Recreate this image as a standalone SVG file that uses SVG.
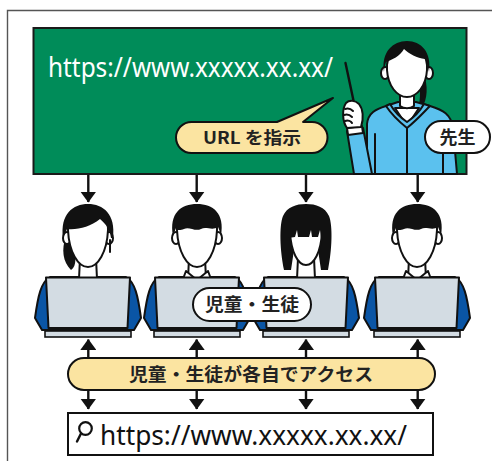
<svg xmlns="http://www.w3.org/2000/svg" width="492" height="461" viewBox="0 0 492 461">
  <defs>
    <style>
      .ln { stroke: #111; stroke-width: 2; stroke-linejoin: round; stroke-linecap: round; }
      .blk { fill: #111; }
      .wht { fill: #fff; }
      .jp { font-family: "Noto Sans CJK JP", "Noto Sans", sans-serif; font-weight: 700; fill: #222; }
      .url { font-family: "Noto Sans", "Open Sans", sans-serif; }
      .conn { stroke: #111; stroke-width: 2.4; fill: none; }
      .screen { fill: #d3dce3; }
      .suit { fill: #0a55a5; }
    </style>
    <marker id="arr" viewBox="0 0 11 16" refX="10.5" refY="8" markerWidth="11" markerHeight="16" markerUnits="userSpaceOnUse" orient="auto-start-reverse">
      <path d="M0,0 L11,8 L0,16 Z" fill="#111"/>
    </marker>

    <!-- shared student parts, drawn around x = 0 -->
    <g id="torso">
      <path class="suit ln" d="M-38,277 C-47,282 -50,296 -53,318 L-46,330 L46,330 L53,318 C50,296 47,282 38,277 Z"/>
    </g>
    <g id="laptop">
      <path class="screen ln" d="M-42,277.5 L42,277.5 L39.5,328 L-39.5,328 Z"/>
      <rect class="screen" x="-43" y="331" width="86" height="6" stroke="#111" stroke-width="1.6"/>
    </g>
    <g id="neck">
      <path class="wht ln" d="M-8,258 L-9,279 L9,279 L8,258 Z"/>
    </g>
    <g id="ears">
      <ellipse class="wht ln" cx="-21" cy="238" rx="4" ry="6"/>
      <ellipse class="wht ln" cx="21" cy="238" rx="4" ry="6"/>
    </g>
    <g id="face">
      <path class="wht ln" d="M-20,230 C-21,216 -12,208 0,208 C12,208 21,216 20,230 C19,252 10,267 0,267 C-10,267 -19,252 -20,230 Z"/>
    </g>
    <g id="boyCollar">
      <path class="wht ln" d="M-11,271 L0,280 L11,271 L14,279 L-14,279 Z"/>
    </g>
    <g id="boyHair">
      <path class="blk" d="M-24,236 C-28,213 -16,204 0,204 C16,204 28,213 24,236 C23,232 22,229 21,227 C15,231 9,226 4,229 C-2,232 -8,226 -13,229 C-18,231 -20,230 -21,228 C-22,231 -23,233 -24,236 Z"/>
    </g>
  </defs>

  <!-- outer frame -->
  <path d="M7.5,461 L7.5,10.5 L492,10.5" fill="none" stroke="#555" stroke-width="1.4"/>

  <!-- blackboard with the URL -->
  <g id="board">
    <rect x="33.5" y="28" width="433" height="146" fill="#008c59" stroke="#1a1a1a" stroke-width="2"/>
    <text class="url" x="48" y="77" font-size="27" fill="#fff" textLength="285" lengthAdjust="spacingAndGlyphs">https://www.xxxxx.xx.xx/</text>
  </g>

  <!-- teacher -->
  <g id="teacher">
    <!-- pointer -->
    <line x1="345.5" y1="63" x2="354" y2="103" stroke="#111" stroke-width="2.4" stroke-linecap="round"/>
    <!-- ponytail -->
    <path class="blk" d="M421,70 C428,80 428,95 424,104 L419,104 C421,94 420,82 416,74 Z"/>
    <!-- body -->
    <path d="M367,174 L367,124 C368,113 376,109 386,106 L398,102 L416,102 L430,106 C443,110 451,114 453,128 L457,174 Z" fill="#5bc1ee" class="ln"/>
    <!-- shirt and collar -->
    <path class="wht ln" d="M395,108 L419,108 L407,126 Z"/>
    <path class="ln" fill="#5bc1ee" d="M386,106 C390,112 397,120 407,128 C417,120 424,112 430,106 L424,104 C420,111 413,118 407,122 C401,118 394,111 390,104 Z"/>
    <path class="ln" d="M407,128 L407,174 M375,134 L375,174 M443,147 L443,174" fill="none"/>
    <!-- neck -->
    <path class="wht ln" d="M400,92 L400,106 C404,109 410,109 414,106 L414,92 Z"/>
    <!-- ears and face -->
    <ellipse class="wht ln" cx="385" cy="73" rx="4" ry="6"/>
    <ellipse class="wht ln" cx="429" cy="73" rx="4" ry="6"/>
    <path class="wht ln" d="M387,70 C386,54 395,46 407,46 C419,46 428,54 427,70 C426,86 417,97 407,97 C397,97 388,86 387,70 Z"/>
    <!-- hair -->
    <path class="blk" d="M384,72 C381,52 393,41 407,41 C421,41 432,52 429,72 C428,67 427,62 425,59 C417,58 409,54 404,49 C400,56 392,60 386,62 C385,65 384,68 384,72 Z"/>
    <!-- raised forearm and fist -->
    <path d="M347,131 L363,128 L372,174 L354,174 Z" fill="#5bc1ee" class="ln"/>
    <path class="wht ln" d="M347,128 L362,126 L363,133 L348,135 Z"/>
    <path class="wht ln" d="M346,103 C342,109 342,121 347,128 L361,127 C364,118 363,109 359,104 C355,100 349,100 346,103 Z"/>
    <path class="ln" fill="none" stroke-width="1.6" d="M345,109 C348,108 351,109 353,111 M344,115 C347,114 350,115 352,117 M345,121 C348,120 351,121 352,123"/>
  </g>

  <!-- speech bubble -->
  <g id="bubble-url">
    <path d="M191.5,122 L277,122 L333,98 L303,122 L312,122 A15.5,15.5 0 0 1 312,153 L191.5,153 A15.5,15.5 0 0 1 191.5,122 Z" fill="#fbe4a1" class="ln" stroke-width="1.8"/>
    <text class="jp" x="252" y="144" font-size="17" text-anchor="middle" textLength="98" lengthAdjust="spacingAndGlyphs">URL を指示</text>
  </g>

  <!-- teacher label -->
  <g id="label-teacher">
    <rect x="425" y="121" width="65" height="32" rx="16" fill="#fff" class="ln" stroke-width="1.8"/>
    <text class="jp" x="457.5" y="144" font-size="18" text-anchor="middle">先生</text>
  </g>

  <!-- students -->
  <g id="student-1" transform="translate(88,0)">
    <path class="blk" d="M-22,236 C-27,250 -25,262 -17,270 C-11,266 -12,256 -15,244 Z"/>
    <use href="#torso"/>
    <use href="#neck"/>
    <use href="#ears"/>
    <use href="#face"/>
    <path class="blk" d="M-25,238 C-28,214 -15,204 0,204 C15,204 28,214 25,238 L23,238 C22,230 18,224 12,219 C2,227 -10,230 -21,229 C-22,232 -24,235 -25,238 Z"/>
    <path class="ln" fill="none" stroke-width="1.6" d="M22,240 L22,252"/>
    <use href="#laptop"/>
  </g>

  <g id="student-2" transform="translate(197,0)">
    <use href="#torso"/>
    <use href="#neck"/>
    <use href="#boyCollar"/>
    <use href="#ears"/>
    <use href="#face"/>
    <use href="#boyHair"/>
    <use href="#laptop"/>
  </g>

  <g id="student-3" transform="translate(306,0)">
    <use href="#torso"/>
    <path class="blk" d="M-22,270 C-26,250 -27,226 -23,216 C-19,207 -10,204 0,204 C10,204 19,207 23,216 C27,226 26,250 22,270 L15,270 L12,250 L-12,250 L-15,270 Z"/>
    <use href="#neck"/>
    <path class="wht ln" d="M-16,232 C-16,218 -9,212 0,212 C9,212 16,218 16,232 C15,252 8,265 0,265 C-8,265 -15,252 -16,232 Z"/>
    <path class="blk" d="M-18,238 L-18,214 C-14,207 -7,205 0,205 C7,205 14,207 18,214 L18,238 L15,238 L14,230 L12,237 L6,237 L5,230 L3,237 L-8,237 L-9,230 L-11,237 Z"/>
    <use href="#laptop"/>
  </g>

  <g id="student-4" transform="translate(417,0)">
    <use href="#torso"/>
    <use href="#neck"/>
    <use href="#boyCollar"/>
    <use href="#ears"/>
    <use href="#face"/>
    <use href="#boyHair"/>
    <use href="#laptop"/>
  </g>

  <!-- students label -->
  <g id="label-students">
    <rect x="193" y="288" width="118" height="33" rx="16.5" fill="#fff" class="ln" stroke-width="1.8"/>
    <text class="jp" x="252" y="311" font-size="18" text-anchor="middle" textLength="94" lengthAdjust="spacingAndGlyphs">児童・生徒</text>
  </g>

  <!-- connectors -->
  <g id="connectors">
    <line class="conn" x1="88.3" y1="175" x2="88.3" y2="202" marker-end="url(#arr)"/>
    <line class="conn" x1="196.7" y1="175" x2="196.7" y2="202" marker-end="url(#arr)"/>
    <line class="conn" x1="306" y1="175" x2="306" y2="202" marker-end="url(#arr)"/>
    <line class="conn" x1="417.7" y1="175" x2="417.7" y2="202" marker-end="url(#arr)"/>

    <line class="conn" x1="88.3" y1="339.5" x2="88.3" y2="409" marker-start="url(#arr)" marker-end="url(#arr)"/>
    <line class="conn" x1="196.7" y1="339.5" x2="196.7" y2="409" marker-start="url(#arr)" marker-end="url(#arr)"/>
    <line class="conn" x1="306" y1="339.5" x2="306" y2="409" marker-start="url(#arr)" marker-end="url(#arr)"/>
    <line class="conn" x1="417.7" y1="339.5" x2="417.7" y2="409" marker-start="url(#arr)" marker-end="url(#arr)"/>
  </g>

  <!-- access label -->
  <g id="label-access">
    <rect x="68" y="358" width="367" height="32" rx="16" fill="#fbe4a1" class="ln" stroke-width="1.8"/>
    <text class="jp" x="251" y="380.5" font-size="18" text-anchor="middle" textLength="244" lengthAdjust="spacingAndGlyphs">児童・生徒が各自でアクセス</text>
  </g>

  <!-- address bar -->
  <g id="address-bar">
    <rect x="68" y="413" width="365" height="42" fill="#fff" stroke="#111" stroke-width="2"/>
    <circle cx="85.5" cy="428.5" r="6.3" fill="none" stroke="#111" stroke-width="2.2"/>
    <line x1="81" y1="433.5" x2="77" y2="441.5" stroke="#111" stroke-width="2.4" stroke-linecap="round"/>
    <text class="url" x="100" y="445" font-size="27" fill="#111" textLength="307" lengthAdjust="spacingAndGlyphs">https://www.xxxxx.xx.xx/</text>
  </g>
</svg>
